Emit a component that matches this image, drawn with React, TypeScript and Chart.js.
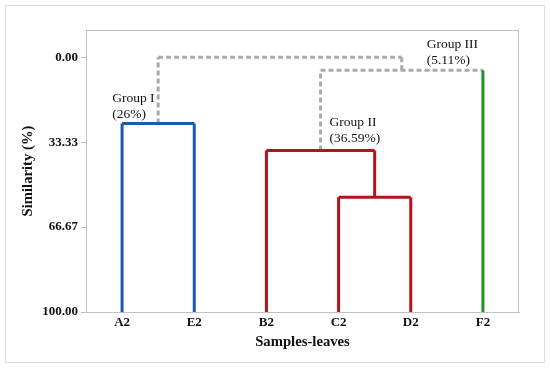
import React, { useEffect, useRef } from "react";
import { Chart, registerables } from "chart.js";

Chart.register(...registerables);

// Leaves of the dendrogram (x-axis categories)
const leafLabels = ["A2", "E2", "B2", "C2", "D2", "F2"];
const leafColors = ["#1f57b4", "#1f57b4", "#b5121b", "#b5121b", "#b5121b", "#1e9420"];
const leafBase = 100;

// Merges (clusters), in order of creation
const mergeNames = ["C2+D2", "Group I", "Group II", "Group III", "Root"];
const mergeHeights = [55, 26, 36.59, 5.11, 0];
const mergeLeftChild = ["C2", "A2", "B2", "Group II", "Group I"];
const mergeRightChild = ["D2", "E2", "C2+D2", "F2", "Group III"];
const mergeColors = ["#b5121b", "#1f57b4", "#b5121b", "#aaaaaa", "#aaaaaa"];
const mergeDashed = [false, false, false, true, true];

// Group annotations
const groupLabels = ["Group I", "Group II", "Group III"];
const groupPercents = ["(26%)", "(36.59%)", "(5.11%)"];

// Y tick values
const yTicks = [0, 33.33, 66.67, 100];

const SERIF = "'Liberation Serif', 'Times New Roman', serif";

function buildSegments() {
  const pos: Record<string, { x: number; y: number; leaf: number }> = {};
  leafLabels.forEach((l, i) => (pos[l] = { x: i + 1, y: leafBase, leaf: i }));
  const segs: any[] = [];
  mergeNames.forEach((name, i) => {
    const h = mergeHeights[i];
    const a = pos[mergeLeftChild[i]];
    const b = pos[mergeRightChild[i]];
    const mc = mergeColors[i];
    const dash = mergeDashed[i] ? [5, 3] : [];
    [a, b].forEach((c) => {
      const isLeaf = c.leaf >= 0;
      segs.push({
        data: [{ x: c.x, y: c.y }, { x: c.x, y: h }],
        color: isLeaf ? leafColors[c.leaf] : mc,
        dash: isLeaf ? [] : dash,
      });
    });
    segs.push({ data: [{ x: a.x, y: h }, { x: b.x, y: h }], color: mc, dash });
    pos[name] = { x: (a.x + b.x) / 2, y: h, leaf: -1 };
  });
  return { segs, pos };
}

export default function App() {
  const ref = useRef<HTMLCanvasElement>(null);
  useEffect(() => {
    const { segs, pos } = buildSegments();
    const datasets = segs.map((s) => ({
      type: "line" as const,
      data: s.data,
      borderColor: s.color,
      borderWidth: 3,
      borderDash: s.dash,
      pointRadius: 0,
      fill: false,
      tension: 0,
      borderCapStyle: "butt" as const,
      borderJoinStyle: "miter" as const,
    }));

    const deco = {
      id: "deco",
      beforeDraw(chart: any) {
        const ctx = chart.ctx;
        ctx.save();
        ctx.fillStyle = "#ffffff";
        ctx.fillRect(0, 0, chart.width, chart.height);
        ctx.strokeStyle = "#dddddd";
        ctx.lineWidth = 1;
        ctx.strokeRect(5.5, 5.5, 539, 357);
        ctx.restore();
      },
      afterDraw(chart: any) {
        const ctx = chart.ctx;
        const { left, right, top, bottom } = chart.chartArea;
        const xs = chart.scales.x;
        const ys = chart.scales.y;
        ctx.save();
        ctx.strokeStyle = "#c0c0c0";
        ctx.lineWidth = 1;
        ctx.strokeRect(left + 0.5, top + 0.5, right - left - 1, bottom - top);
        // axis titles
        ctx.fillStyle = "#111";
        ctx.font = `bold 14.7px ${SERIF}`;
        ctx.textAlign = "center";
        ctx.textBaseline = "middle";
        ctx.fillText("Samples-leaves", (left + right) / 2, 342);
        ctx.save();
        ctx.translate(28, (top + bottom) / 2);
        ctx.rotate(-Math.PI / 2);
        ctx.fillText("Similarity (%)", 0, 0);
        ctx.restore();
        // group annotations
        ctx.font = `13.5px ${SERIF}`;
        ctx.textAlign = "left";
        ctx.textBaseline = "middle";
        const anchors = [
          { x: xs.getPixelForValue(pos["Group I"].x) - 46, y: ys.getPixelForValue(mergeHeights[1]) - 25 },
          { x: xs.getPixelForValue(pos["Group II"].x) + 9, y: ys.getPixelForValue(mergeHeights[2]) - 28 },
          { x: xs.getPixelForValue(pos["Group III"].x) + 25, y: ys.getPixelForValue(mergeHeights[3]) - 26 },
        ];
        groupLabels.forEach((g, i) => {
          ctx.fillText(g, anchors[i].x, anchors[i].y);
          ctx.fillText(groupPercents[i], anchors[i].x, anchors[i].y + 16);
        });
        ctx.restore();
      },
    };

    const chart = new Chart(ref.current!, {
      type: "line",
      data: { datasets },
      options: {
        animation: false,
        responsive: false,
        maintainAspectRatio: false,
        layout: { padding: { left: 0, right: 31, top: 30, bottom: 0 } },
        plugins: { legend: { display: false }, tooltip: { enabled: false } },
        scales: {
          x: {
            type: "linear",
            min: 0.5,
            max: 6.5,
            afterBuildTicks: (s: any) => {
              s.ticks = leafLabels.map((_, i) => ({ value: i + 1 }));
            },
            afterFit: (s: any) => {
              s.height = 56;
            },
            ticks: {
              callback: (v: any) => leafLabels[Math.round(v) - 1] ?? "",
              color: "#111",
              font: { family: SERIF, size: 13, weight: "bold" },
              padding: 3,
              maxRotation: 0,
              autoSkip: false,
            },
            grid: { display: false, drawTicks: false },
            border: { display: true, color: "#c0c0c0" },
          },
          y: {
            type: "linear",
            reverse: true,
            min: -10.7,
            max: 100,
            afterBuildTicks: (s: any) => {
              s.ticks = yTicks.map((v) => ({ value: v }));
            },
            afterFit: (s: any) => {
              s.width = 86;
            },
            ticks: {
              callback: (v: any) => Number(v).toFixed(2),
              color: "#111",
              font: { family: SERIF, size: 13, weight: "bold" },
              padding: 3,
              autoSkip: false,
            },
            grid: { drawOnChartArea: false, drawTicks: true, tickLength: 5, color: "#c0c0c0" },
            border: { display: true, color: "#c0c0c0" },
          },
        },
      },
      plugins: [deco],
    });
    return () => chart.destroy();
  }, []);

  return (
    <div style={{ position: "fixed", left: 0, top: 0, width: 550, height: 368, background: "#fff" }}>
      <canvas ref={ref} width={550} height={368} style={{ display: "block", width: 550, height: 368 }} />
    </div>
  );
}
